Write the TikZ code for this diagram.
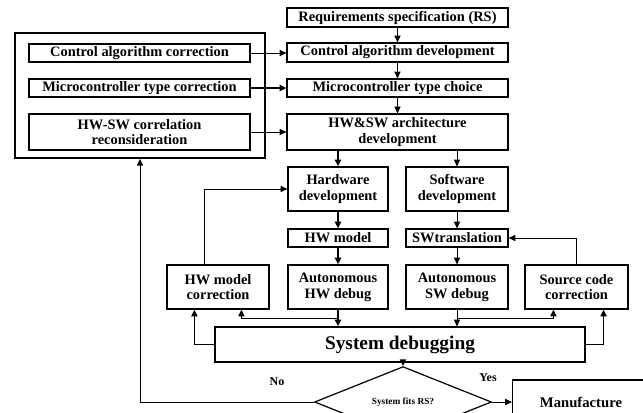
\documentclass[tikz,border=0pt]{standalone}
\usepackage{fontspec}
\setmainfont{Liberation Serif}
\usetikzlibrary{arrows.meta,shapes.geometric,calc}
\begin{document}
\begin{tikzpicture}[x=0.75pt,y=-0.75pt,
  box/.style={draw,line width=0.9pt,font=\bfseries\fontsize{10.8}{11.8}\selectfont,inner sep=0pt,align=center},
  arr/.style={-{Triangle[length=5pt,width=4.5pt]},line width=0.7pt},
  tarr/.style={arr,line width=1.3pt}]
\clip (0,0) rectangle (643,412);
\fill[white] (0,0) rectangle (643,412);
% big left frame
\node[draw,line width=1.3pt,minimum width=187.5pt,minimum height=93.75pt,inner sep=0pt] (big) at (140,95.5) {};
% main column
\node[box,minimum width=165.75pt,minimum height=14.25pt] (rs) at (397.5,17.5) {Requirements specification (RS)};
\node[box,minimum width=165.75pt,minimum height=14.25pt] (cad) at (397.5,52.5) {Control algorithm development};
\node[box,minimum width=165.75pt,minimum height=13.5pt] (mtch) at (397.5,88) {Microcontroller type choice};
\node[box,minimum width=165.75pt,minimum height=27pt] (arch) at (397.5,132) {HW\&SW architecture\\development};
% left corrections
\node[box,minimum width=165.75pt,minimum height=13.5pt] (cac) at (139.5,53) {Control algorithm correction};
\node[box,minimum width=165.75pt,minimum height=13.5pt] (mtc) at (139.5,88) {Microcontroller type correction};
\node[box,minimum width=165.75pt,minimum height=27pt] (rec) at (139.5,132) {HW-SW correlation\\reconsideration};
% HW / SW
\node[box,minimum width=75pt,minimum height=33pt] (hwd) at (338,189) {Hardware\\development};
\node[box,minimum width=76.5pt,minimum height=33pt] (swd) at (457,189) {Software\\development};
\node[box,minimum width=75pt,minimum height=13.5pt] (hwm) at (338,238) {HW model};
\node[box,minimum width=76.5pt,minimum height=13.5pt] (swt) at (457,238) {SWtranslation};
\node[box,minimum width=76.5pt,minimum height=33pt] (hwmc) at (218,287) {HW model\\correction};
\node[box,minimum width=75pt,minimum height=33pt] (ahd) at (338,287) {Autonomous\\HW debug};
\node[box,minimum width=76.5pt,minimum height=33pt] (asd) at (457,287) {Autonomous\\SW debug};
\node[box,minimum width=77.25pt,minimum height=33pt] (scc) at (576.5,287) {Source code\\correction};
\node[box,font=\bfseries\fontsize{14.5}{16}\selectfont,minimum width=277.5pt,minimum height=26.25pt] (sd) at (400,344.5) {System debugging};
\node[draw,line width=0.9pt,diamond,inner sep=0pt,minimum width=132.75pt,minimum height=30pt,font=\bfseries\fontsize{7}{8}\selectfont] (fit) at (403,402) {System fits RS?};
\node[box,font=\bfseries\fontsize{11}{12}\selectfont,minimum width=102.75pt,minimum height=33.75pt] (man) at (581,402.5) {Manufacture};
% labels
\node[font=\bfseries\fontsize{9}{10}\selectfont] (no) at (277,382) {No};
\node[font=\bfseries\fontsize{9}{10}\selectfont] (yes) at (488,378) {Yes};
% main flow
\draw[arr] (rs) -- (cad);
\draw[arr] (cad) -- (mtch);
\draw[arr] (mtch) -- (arch);
\draw[tarr] (arch.south -| hwd) -- (hwd);
\draw[arr] (arch.south -| swd) -- (swd);
\draw[tarr] (hwd) -- (hwm);
\draw[tarr] (hwm) -- (ahd);
\draw[arr] (swd) -- (swt);
\draw[arr] (swt) -- (asd);
\draw[tarr] (ahd) -- (ahd |- sd.north);
\draw[arr] (asd) -- (asd |- sd.north);
% corrections
\draw[arr] (cac) -- (cad.west |- cac);
\draw[tarr] (mtc) -- (mtch.west |- mtc);
\draw[arr] (rec) -- (arch.west |- rec);
% feedback loops
\coordinate (bh) at (338,318);
\coordinate (bs) at (457,318);
\draw[arr] (bh) -| ($(hwmc.south west)+(75,0)$);
\draw[tarr] (sd.west) -| ($(hwmc.south west)+(28,0)$);
\draw[arr] ($(hwmc.north west)+(38,0)$) |- (hwd.west);
\draw[arr] (bs) -| ($(scc.south west)+(29,0)$);
\draw[tarr] (sd.east) -| ($(scc.south east)+(-25,0)$);
\draw[arr] (scc.north) |- (swt.east);
% decision
\draw[tarr] (sd.south -| fit) -- (fit.north);
\draw[arr] (fit.east) -- (man.west |- fit.east);
\draw[arr] (fit.west) -| (big.south);
\end{tikzpicture}
\end{document}
